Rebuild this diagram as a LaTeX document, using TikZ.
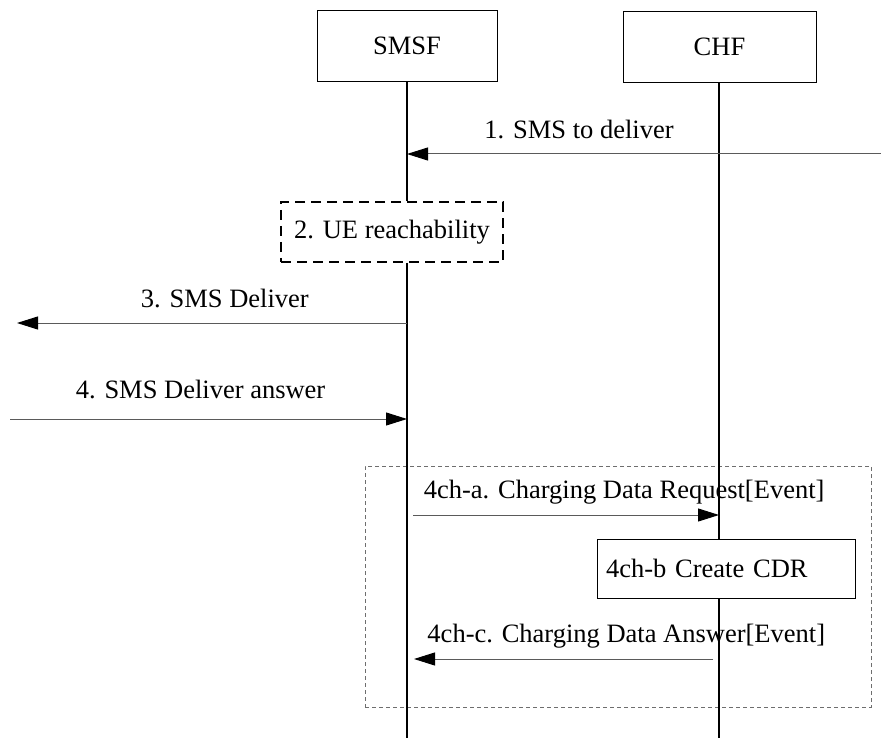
\documentclass[tikz,border=0pt]{standalone}
\usepackage{fontspec}
\setmainfont{Liberation Serif}
\usetikzlibrary{arrows.meta,positioning,calc}
\definecolor{msgcol}{RGB}{90,90,90}
\definecolor{grpcol}{RGB}{110,110,110}
\tikzset{
  ent/.style={draw,line width=0.9pt,minimum width=180,minimum height=71,inner sep=0pt},
  proc/.style={draw,dashed,dash pattern=on 10pt off 6pt,line width=1.6pt,minimum width=222,minimum height=60,inner sep=0pt},
  act/.style={draw,line width=0.9pt,minimum width=258,minimum height=59,inner sep=0pt,text width=240,align=left},
  grp/.style={draw=grpcol,dash pattern=on 4pt off 3pt,line width=0.8pt},
  life/.style={draw,line width=1.8pt},
  msg/.style={-{Triangle[length=21pt,width=13pt,color=black]},draw=msgcol,line width=1pt},
  lbl/.style={inner sep=0pt}
}
\begin{document}
\begin{tikzpicture}[x=1pt,y=-1pt,font=\fontsize{26.5}{31}\selectfont]
  \useasboundingbox (0,0) rectangle (881,738);
  % lifeline heads
  \node[ent] (smsf) at (407,45.5){SMSF};
  \node[ent,minimum width=193] (chf) at (719.5,46.5){CHF};
  \node[proc] (reach) at (392,232){2. UE reachability};
  \node[act] (cdr) at (726,568.5){4ch-b Create CDR};
  \node[grp,minimum width=506,minimum height=241,inner sep=0pt] (chg) at (618,586.5){};
  % end points
  \coordinate (smsfend) at (407,738);
  \coordinate (chfend) at (719,738);
  \coordinate (east1) at (881,154);
  \coordinate (west3) at (17,323);
  \coordinate (west4) at (10,419);
  % lifelines
  \draw[life] (smsf.south) -- (reach.north -| smsf.south);
  \draw[life] (reach.south -| smsf.south) -- (smsfend);
  \draw[life,line width=1.2pt] (chf.south -| chfend) -- (cdr.north -| chfend);
  \draw[life,line width=1.2pt] (cdr.south -| chfend) -- (chfend);
  % messages
  \draw[msg] (east1) -- (east1 -| smsf.south) node[lbl,pos=0.637,above=15pt]{1. SMS to deliver};
  \draw[msg] (west3 -| smsf.south) -- (west3) node[lbl,pos=0.467,above=15pt]{3. SMS Deliver};
  \draw[msg] (west4) -- (west4 -| smsf.south) node[lbl,pos=0.48,above=20pt]{4. SMS Deliver answer};
  \draw[msg] ($(smsf.south |- 0,515)+(6,0)$) -- (chfend |- 0,515) node[lbl,pos=0.69,above=10pt]{4ch-a. Charging Data Request[Event]};
  \draw[msg] ($(chfend |- 0,659)+(-6,0)$) -- ($(smsf.south |- 0,659)+(7,0)$) node[lbl,pos=0.29,above=10pt]{4ch-c. Charging Data Answer[Event]};
\end{tikzpicture}
\end{document}
